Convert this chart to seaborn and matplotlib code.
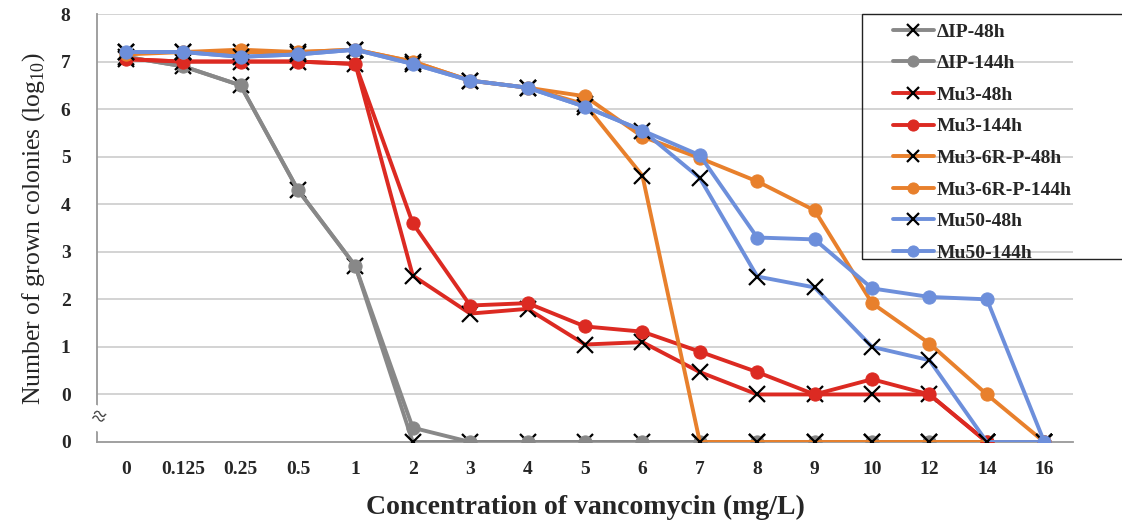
import matplotlib
matplotlib.use("Agg")
import matplotlib.pyplot as plt
from matplotlib.patches import Rectangle
import seaborn as sns
import pandas as pd
import numpy as np

# ---------------- data ----------------
concentrations = ["0", "0.125", "0.25", "0.5", "1", "2", "3", "4", "5", "6",
                  "7", "8", "9", "10", "12", "14", "16"]
# value -1 stands for "0" below the axis break (no colonies grown)
dIP_48h = [7.1, 6.9, 6.5, 4.3, 2.7, -1, -1, -1, -1, -1, -1, -1, -1, -1, -1, -1, -1]
dIP_144h = [7.1, 6.9, 6.5, 4.3, 2.7, -0.7, -1, -1, -1, -1, -1, -1, -1, -1, -1, -1, -1]
mu3_48h = [7.05, 7.0, 7.0, 7.0, 6.95, 2.5, 1.7, 1.8, 1.05, 1.1, 0.47, 0.0, 0.0, 0.0, 0.0, -1, -1]
mu3_144h = [7.05, 7.0, 7.0, 7.0, 6.95, 3.6, 1.87, 1.92, 1.43, 1.32, 0.9, 0.47, 0.0, 0.32, 0.0, -1, -1]
mu36r_48h = [7.2, 7.2, 7.2, 7.2, 7.25, 7.0, 6.6, 6.45, 6.1, 4.6, -1, -1, -1, -1, -1, -1, -1]
mu36r_144h = [7.15, 7.2, 7.25, 7.2, 7.25, 7.0, 6.6, 6.45, 6.27, 5.42, 4.97, 4.48, 3.87, 1.92, 1.07, 0.0, -1]
mu50_48h = [7.2, 7.2, 7.1, 7.15, 7.25, 6.95, 6.6, 6.45, 6.05, 5.55, 4.55, 2.48, 2.25, 1.0, 0.72, -1, -1]
mu50_144h = [7.2, 7.2, 7.1, 7.15, 7.25, 6.95, 6.6, 6.45, 6.05, 5.55, 5.03, 3.3, 3.26, 2.23, 2.05, 2.0, -1]

series_names = ["\u0394IP-48h", "\u0394IP-144h", "Mu3-48h", "Mu3-144h",
                "Mu3-6R-P-48h", "Mu3-6R-P-144h", "Mu50-48h", "Mu50-144h"]
series_values = [dIP_48h, dIP_144h, mu3_48h, mu3_144h,
                 mu36r_48h, mu36r_144h, mu50_48h, mu50_144h]
y_tick_labels = ["0", "0", "1", "2", "3", "4", "5", "6", "7", "8"]

# ---------------- style ----------------
sns.set_theme(style="white")
plt.rcParams["font.family"] = ["Liberation Serif", "DejaVu Serif"]
plt.rcParams["mathtext.fontset"] = "custom"
plt.rcParams["mathtext.rm"] = "Liberation Serif"

GRAY = "#888888"
RED = "#dc2a22"
ORANGE = "#e8802c"
BLUE = "#6d8fdb"
colors = [GRAY, GRAY, RED, RED, ORANGE, ORANGE, BLUE, BLUE]
is48 = [True, False, True, False, True, False, True, False]

fig = plt.figure(figsize=(11.22, 5.2), dpi=100)
ax = fig.add_axes([97 / 1122, (520 - 442) / 520, 976 / 1122, 428 / 520])

rows = []
for name, vals in zip(series_names, series_values):
    for i, v in enumerate(vals):
        rows.append({"series": name, "xpos": i, "value": v})
df = pd.DataFrame(rows)

for name, col, h48 in zip(series_names, colors, is48):
    sub = df[df["series"] == name]
    if h48:
        sns.lineplot(data=sub, x="xpos", y="value", color=col, linewidth=2.8,
                     marker="x", markersize=11, markeredgewidth=1.6,
                     markeredgecolor="black", ax=ax, label=name, zorder=3)
    else:
        sns.lineplot(data=sub, x="xpos", y="value", color=col, linewidth=2.8,
                     marker="o", markersize=9.5, markerfacecolor=col,
                     markeredgecolor=col, ax=ax, label=name, zorder=3)

# axes
ax.set_xlim(-0.5, len(concentrations) - 0.5)
ax.set_ylim(-1, 8)
ax.set_xticks(range(len(concentrations)))
ax.set_xticklabels(concentrations, fontsize=14, fontweight="bold")
ax.set_xticks(np.arange(-0.5, len(concentrations), 1.0), minor=True)
ax.tick_params(axis="x", which="major", length=0, pad=14)
ax.tick_params(axis="x", which="minor", length=5, color="#999999", direction="out", width=1)
ax.set_yticks(range(-1, 9))
ax.set_yticklabels(y_tick_labels, fontsize=14, fontweight="bold")
ax.tick_params(axis="y", which="major", length=5, color="#999999", direction="out", pad=14, width=1)

for yv in range(0, 9):
    ax.axhline(yv, color="#d0d0d0", linewidth=1.3, zorder=0)

for s in ["top", "right"]:
    ax.spines[s].set_visible(False)
for s in ["left", "bottom"]:
    ax.spines[s].set_color("#999999")
    ax.spines[s].set_linewidth(1.3)

ax.set_xlabel("Concentration of vancomycin (mg/L)", fontsize=20, fontweight="bold", labelpad=12)
ax.set_ylabel("Number of grown colonies (log$_{10}$)", fontsize=18.5, labelpad=10)

# axis break symbol
ax.text(-0.5, -0.5, "\u2248", transform=ax.transData, fontsize=18, ha="center",
        va="center", color="#333333", rotation=-20, clip_on=False,
        bbox=dict(boxstyle="square,pad=0.05", facecolor="white", edgecolor="none"))

# legend (frame drawn separately so it can run off the right edge)
leg = ax.legend(loc="upper left",
                bbox_to_anchor=(893 / 1122, (520 - 23) / 520),
                bbox_transform=fig.transFigure, borderaxespad=0,
                frameon=False,
                prop={"family": "Liberation Serif", "weight": "bold", "size": 14},
                handlelength=2.1, labelspacing=0.72, borderpad=0.0, handletextpad=0.15)
for h in leg.legend_handles:
    h.set_markersize(8)
fig.patches.append(Rectangle((862 / 1122, (520 - 259) / 520), (1140 - 862) / 1122, 245 / 520,
                             transform=fig.transFigure, fill=False, edgecolor="#222222",
                             linewidth=1.0, clip_on=False))

fig.savefig("out.png", dpi=100)
